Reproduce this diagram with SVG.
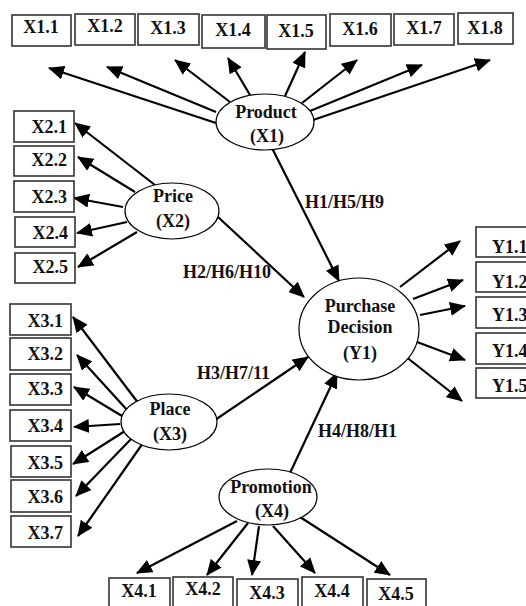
<svg xmlns="http://www.w3.org/2000/svg" width="526" height="606" viewBox="0 0 526 606">
<defs>
<marker id="ah" markerUnits="userSpaceOnUse" markerWidth="16" markerHeight="14" viewBox="0 0 16 14" refX="15" refY="7" orient="auto"><path d="M0,0 L16,7 L0,14 z" fill="#000"/></marker>
<style>
text{font-family:"Liberation Serif","Times New Roman",serif;font-weight:bold;font-size:18px;fill:#111}
.c{text-anchor:middle}
.e{text-anchor:end}
.box{fill:#fff;stroke:#333;stroke-width:1.6}
.ell{fill:#fff;stroke:#000;stroke-width:1.2}
.ln{stroke:#000;stroke-width:2.2;fill:none;marker-end:url(#ah)}
</style>
</defs>
<rect width="526" height="606" fill="#fff"/>

<g id="connectors">
<line class="ln" x1="216" y1="123" x2="49" y2="68"/>
<line class="ln" x1="216" y1="112" x2="107" y2="67"/>
<line class="ln" x1="230" y1="102" x2="175" y2="60"/>
<line class="ln" x1="250" y1="95" x2="228" y2="58"/>
<line class="ln" x1="285" y1="96" x2="305" y2="52"/>
<line class="ln" x1="302" y1="103" x2="357" y2="60"/>
<line class="ln" x1="310" y1="111" x2="422" y2="65"/>
<line class="ln" x1="313" y1="120" x2="490" y2="60"/>
<line class="ln" x1="272" y1="148" x2="339" y2="281"/>
<line class="ln" x1="155" y1="185" x2="75" y2="123"/>
<line class="ln" x1="135" y1="192" x2="78" y2="157"/>
<line class="ln" x1="123" y1="207" x2="74" y2="198"/>
<line class="ln" x1="127" y1="222" x2="77" y2="233"/>
<line class="ln" x1="137" y1="232" x2="78" y2="267"/>
<line class="ln" x1="218" y1="217" x2="304" y2="297"/>
<line class="ln" x1="142" y1="408" x2="73" y2="317"/>
<line class="ln" x1="128" y1="411" x2="77" y2="355"/>
<line class="ln" x1="122" y1="416" x2="74" y2="387"/>
<line class="ln" x1="120" y1="424" x2="74" y2="427"/>
<line class="ln" x1="125" y1="431" x2="73" y2="464"/>
<line class="ln" x1="132" y1="438" x2="76" y2="496"/>
<line class="ln" x1="143" y1="443" x2="78" y2="536"/>
<line class="ln" x1="215" y1="420" x2="308" y2="357"/>
<line class="ln" x1="290" y1="473" x2="337" y2="373"/>
<line class="ln" x1="400" y1="287" x2="460" y2="241"/>
<line class="ln" x1="413" y1="299" x2="463" y2="280"/>
<line class="ln" x1="420" y1="315" x2="465" y2="306"/>
<line class="ln" x1="417" y1="342" x2="465" y2="360"/>
<line class="ln" x1="405" y1="356" x2="462" y2="401"/>
<line class="ln" x1="237" y1="521" x2="137" y2="573"/>
<line class="ln" x1="248" y1="523" x2="207" y2="575"/>
<line class="ln" x1="259" y1="526" x2="252" y2="575"/>
<line class="ln" x1="273" y1="526" x2="315" y2="573"/>
<line class="ln" x1="300" y1="517" x2="390" y2="575"/>
</g>

<g id="labels">
<text x="305" y="208">H1/H5/H9</text>
<text x="183" y="278">H2/H6/H10</text>
<text x="197" y="379">H3/H7/11</text>
<text x="318" y="437">H4/H8/H1</text>
</g>

<g id="product"><ellipse class="ell" cx="265" cy="122" rx="49" ry="28"/><text class="c" x="266" y="118">Product</text><text class="c" x="267" y="142">(X1)</text></g>
<g id="price"><ellipse class="ell" cx="172" cy="211" rx="47" ry="28"/><text class="c" x="173" y="202">Price</text><text class="c" x="173" y="227">(X2)</text></g>
<g id="place"><ellipse class="ell" cx="169" cy="422" rx="48" ry="28"/><text class="c" x="170" y="415">Place</text><text class="c" x="170" y="440">(X3)</text></g>
<g id="promotion"><ellipse class="ell" cx="268" cy="497" rx="49" ry="28"/><text class="c" x="271" y="493">Promotion</text><text class="c" x="272" y="517">(X4)</text></g>
<g id="purchase"><ellipse class="ell" cx="359" cy="329" rx="60" ry="51"/><text class="c" x="360" y="312">Purchase</text><text class="c" x="360" y="333">Decision</text><text class="c" x="360" y="359">(Y1)</text></g>

<g id="x1-1"><rect class="box" x="12" y="15" width="59" height="31"/><text class="c" x="41" y="33">X1.1</text></g>
<g id="x1-2"><rect class="box" x="75" y="14" width="60" height="31"/><text class="c" x="105" y="32">X1.2</text></g>
<g id="x1-3"><rect class="box" x="138" y="14" width="61" height="31"/><text class="c" x="168" y="34">X1.3</text></g>
<g id="x1-4"><rect class="box" x="202" y="15" width="63" height="33"/><text class="c" x="233" y="36">X1.4</text></g>
<g id="x1-5"><rect class="box" x="267" y="15" width="59" height="34"/><text class="c" x="296" y="37">X1.5</text></g>
<g id="x1-6"><rect class="box" x="330" y="14" width="61" height="32"/><text class="c" x="360" y="35">X1.6</text></g>
<g id="x1-7"><rect class="box" x="394" y="14" width="60" height="31"/><text class="c" x="424" y="34">X1.7</text></g>
<g id="x1-8"><rect class="box" x="458" y="13" width="55" height="31"/><text class="c" x="485" y="34">X1.8</text></g>

<g id="x2-1"><rect class="box" x="14" y="111" width="60" height="31"/><text class="e" x="67" y="133">X2.1</text></g>
<g id="x2-2"><rect class="box" x="14" y="146" width="60" height="30"/><text class="e" x="67" y="166">X2.2</text></g>
<g id="x2-3"><rect class="box" x="14" y="181" width="60" height="31"/><text class="e" x="67" y="203">X2.3</text></g>
<g id="x2-4"><rect class="box" x="15" y="217" width="60" height="30"/><text class="e" x="68" y="239">X2.4</text></g>
<g id="x2-5"><rect class="box" x="15" y="253" width="60" height="30"/><text class="e" x="68" y="273">X2.5</text></g>

<g id="x3-1"><rect class="box" x="10" y="304" width="61" height="31"/><text class="e" x="63" y="327">X3.1</text></g>
<g id="x3-2"><rect class="box" x="10" y="338" width="61" height="32"/><text class="e" x="63" y="360">X3.2</text></g>
<g id="x3-3"><rect class="box" x="10" y="374" width="61" height="31"/><text class="e" x="63" y="395">X3.3</text></g>
<g id="x3-4"><rect class="box" x="10" y="410" width="61" height="31"/><text class="e" x="63" y="432">X3.4</text></g>
<g id="x3-5"><rect class="box" x="11" y="446" width="60" height="31"/><text class="e" x="63" y="469">X3.5</text></g>
<g id="x3-6"><rect class="box" x="11" y="480" width="60" height="32"/><text class="e" x="63" y="503">X3.6</text></g>
<g id="x3-7"><rect class="box" x="11" y="516" width="60" height="31"/><text class="e" x="63" y="539">X3.7</text></g>

<g id="y1-1"><rect class="box" x="476" y="227" width="60" height="30"/><text x="492" y="253">Y1.1</text></g>
<g id="y1-2"><rect class="box" x="476" y="262" width="60" height="30"/><text x="492" y="288">Y1.2</text></g>
<g id="y1-3"><rect class="box" x="476" y="297" width="60" height="31"/><text x="492" y="321">Y1.3</text></g>
<g id="y1-4"><rect class="box" x="476" y="333" width="60" height="31"/><text x="492" y="357">Y1.4</text></g>
<g id="y1-5"><rect class="box" x="476" y="368" width="60" height="30"/><text x="492" y="392">Y1.5</text></g>

<g id="x4-1"><rect class="box" x="109" y="578" width="61" height="32"/><text class="c" x="139" y="597">X4.1</text></g>
<g id="x4-2"><rect class="box" x="173" y="577" width="60" height="33"/><text class="c" x="203" y="595">X4.2</text></g>
<g id="x4-3"><rect class="box" x="237" y="579" width="61" height="31"/><text class="c" x="267" y="599">X4.3</text></g>
<g id="x4-4"><rect class="box" x="302" y="577" width="61" height="33"/><text class="c" x="332" y="597">X4.4</text></g>
<g id="x4-5"><rect class="box" x="367" y="579" width="59" height="31"/><text class="c" x="396" y="600">X4.5</text></g>
</svg>
